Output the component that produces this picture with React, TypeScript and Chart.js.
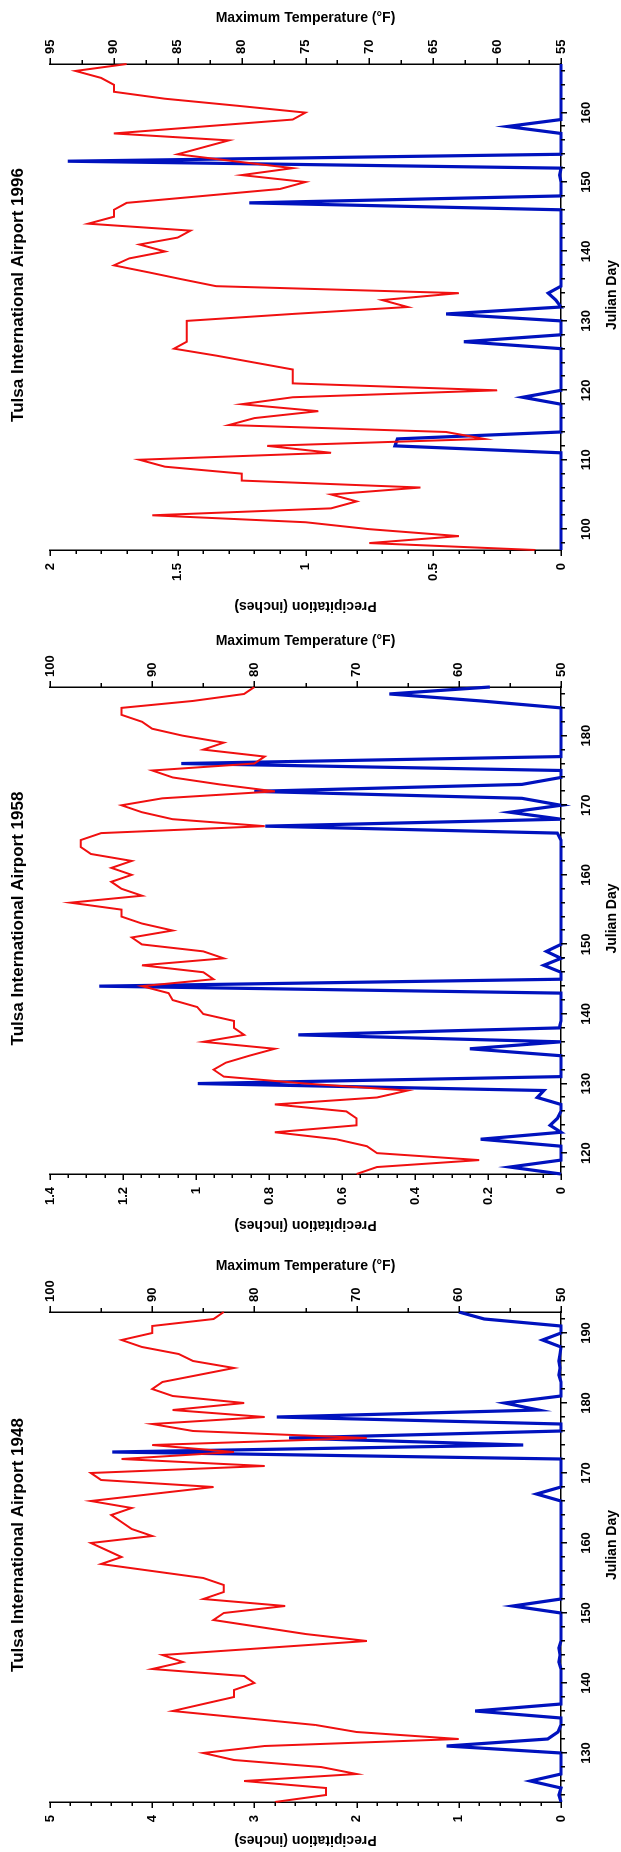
import React, { useEffect, useRef } from 'react';
import { Chart, registerables } from 'chart.js';

Chart.register(...registerables);

const FONT = '"Liberation Sans", Arial, Helvetica, sans-serif';
const RED = 'rgb(240, 16, 16)';
const BLUE = 'rgb(0, 18, 190)';

const range = (a: number, b: number) => {
  const r: number[] = [];
  for (let d = a; d <= b; d++) r.push(d);
  return r;
};

// ---------- 1996 ----------
const DAYS_1996 = range(97, 167);
const DAY_TICKS_1996 = [100, 110, 120, 130, 140, 150, 160];
const TEMP_1996 = [
  57, 70, 63, 70, 75, 87, 73, 71, 73, 66,
  80, 80, 86, 88, 73, 78, 61, 64, 81, 79,
  74, 80, 76, 60, 76, 76, 76, 79, 82, 85.3,
  84.3, 84.3, 84.3, 84.3, 76, 67, 69, 63, 82, 84.7,
  87.3, 90, 88.8, 86, 88, 85, 84, 92, 90, 90,
  89, 83, 77, 75, 80, 76, 80.6, 85, 83, 81,
  90, 83, 76, 75, 80.4, 86, 90, 90, 91, 93,
  89,
];
const PRECIP_1996 = [
  0, 0, 0, 0, 0, 0, 0, 0, 0, 0,
  0, 0, 0, 0, 0, 0.65, 0.64, 0, 0, 0,
  0, 0, 0.15, 0, 0, 0, 0, 0, 0, 0,
  0.38, 0, 0, 0, 0.45, 0, 0.02, 0.05, 0, 0,
  0, 0, 0, 0, 0, 0, 0, 0, 0, 0,
  1.22, 0, 0, 0, 0.005, 0, 1.93, 0, 0, 0,
  0, 0.21, 0, 0, 0, 0, 0, 0, 0, 0,
  0,
];

// ---------- 1958 ----------
const DAYS_1958 = range(117, 187);
const DAY_TICKS_1958 = [120, 130, 140, 150, 160, 170, 180];
const TEMP_1958 = [
  70, 68, 58, 68, 69, 72, 78, 70, 70, 71,
  78, 68, 65, 75, 83, 84, 82.8, 80.5, 78, 85,
  81, 82, 82, 85, 85.6, 88, 88.4, 91, 84, 85,
  91, 83, 85, 91, 92, 88, 91, 93, 93, 98,
  91, 93, 94, 92, 94, 92, 96, 97, 97, 95,
  79, 88, 91, 93, 89, 78, 83.4, 88, 90, 80,
  79, 85, 83, 87, 90, 91, 93, 93, 86, 81,
  80,
];
const PRECIP_1958 = [
  0, 0.14, 0, 0, 0, 0.22, 0, 0.03, 0.01, 0,
  0, 0.065, 0.047, 0.995, 0, 0, 0, 0, 0.25, 0,
  0.72, 0.005, 0, 0, 0, 0, 0, 1.265, 0, 0,
  0.047, 0, 0.04, 0, 0, 0, 0, 0, 0, 0,
  0, 0, 0, 0, 0, 0, 0, 0, 0, 0.01,
  0.81, 0, 0.14, 0, 0.107, 0.84, 0.107, 0, 0, 1.04,
  0, 0, 0, 0, 0, 0, 0, 0, 0.22, 0.47,
  0.195,
];

// ---------- 1948 ----------
const DAYS_1948 = range(123, 193);
const DAY_TICKS_1948 = [130, 140, 150, 160, 170, 180, 190];
const TEMP_1948 = [
  78, 73, 73, 81, 70, 73.5, 82, 85, 79, 60,
  70, 74, 81, 88, 85, 82, 82, 80, 81, 90,
  87, 89, 79, 69, 75, 79.5, 84, 83, 77, 85,
  83, 83, 85, 90, 95, 93, 94.5, 96, 90, 92,
  93, 94, 92, 96, 90, 84, 95, 96, 79, 93,
  82, 90, 69, 86, 90, 79, 88, 81, 88, 90,
  89, 85.5, 82, 86, 87.4, 91, 93, 90, 90, 84,
  83,
];
const PRECIP_1948 = [
  0, 0.02, 0, 0.3, 0, 0, 0, 0, 1.12, 0.13,
  0.03, 0, 0, 0.84, 0, 0, 0, 0, 0, 0,
  0.02, 0.01, 0.02, 0, 0, 0, 0, 0, 0.47, 0,
  0, 0, 0, 0, 0, 0, 0, 0, 0, 0,
  0, 0, 0, 0, 0.24, 0, 0, 0, 0, 0,
  4.39, 0.37, 2.66, 0, 0, 2.78, 0.22, 0.55, 0, 0,
  0, 0.02, 0.01, 0.02, 0.01, 0, 0.18, 0, 0, 0.75,
  1.0,
];

type PanelDef = {
  title: string;
  days: number[];
  dayTicks: number[];
  temp: number[];
  precip: number[];
  dayMin: number;
  dayMax: number;
  pMax: number;
  pMajor: number;
  pMinor: number;
  tMin: number;
  tMax: number;
  tMajor: number;
  tMinor: number;
  top: number;
  w: number;
  left: number;
  right: number;
  pGap: number;
};

const PANELS: PanelDef[] = [
  {
    title: 'Tulsa International Airport 1996',
    days: DAYS_1996, dayTicks: DAY_TICKS_1996, temp: TEMP_1996, precip: PRECIP_1996,
    dayMin: 97, dayMax: 167,
    pMax: 2, pMajor: 0.5, pMinor: 0.1,
    tMin: 55, tMax: 95, tMajor: 5, tMinor: 2.5,
    top: 0, w: 620, left: 70, right: 556, pGap: 56,
  },
  {
    title: 'Tulsa International Airport 1958',
    days: DAYS_1958, dayTicks: DAY_TICKS_1958, temp: TEMP_1958, precip: PRECIP_1958,
    dayMin: 117, dayMax: 187,
    pMax: 1.4, pMajor: 0.2, pMinor: 0.05,
    tMin: 50, tMax: 100, tMajor: 10, tMinor: 5,
    top: 620, w: 620, left: 66, right: 553, pGap: 51,
  },
  {
    title: 'Tulsa International Airport 1948',
    days: DAYS_1948, dayTicks: DAY_TICKS_1948, temp: TEMP_1948, precip: PRECIP_1948,
    dayMin: 123, dayMax: 193,
    pMax: 5, pMajor: 1, pMinor: 0.2,
    tMin: 50, tMax: 100, tMajor: 10, tMinor: 5,
    top: 1240, w: 612, left: 50, right: 540, pGap: 38,
  },
];

const H = 621;
const MAJ = 6;
const MIN = 4;

const fmt = (v: any) => String(Number(Number(v).toFixed(2)));

const decorPlugin = {
  id: 'panelDecor',
  afterDraw(chart: any, _args: any, opts: any) {
    const { ctx, chartArea, scales } = chart;
    const x = scales.x;
    const y = scales.y;
    const y1 = scales.y1;
    ctx.save();
    ctx.strokeStyle = '#000';
    ctx.lineWidth = 1.5;
    ctx.beginPath();
    for (let d = Math.ceil(x.min / 2) * 2; d <= x.max; d += 2) {
      const px = Math.round(x.getPixelForValue(d)) + 0.25;
      const len = d % 10 === 0 ? MAJ : MIN;
      ctx.moveTo(px, chartArea.bottom);
      ctx.lineTo(px, chartArea.bottom + len);
    }
    const nP = Math.round((y.max - y.min) / opts.pMinor);
    const rP = Math.round(opts.pMajor / opts.pMinor);
    for (let i = 0; i <= nP; i++) {
      const py = Math.round(y.getPixelForValue(y.min + i * opts.pMinor)) + 0.25;
      const len = i % rP === 0 ? MAJ : MIN;
      ctx.moveTo(chartArea.left - len, py);
      ctx.lineTo(chartArea.left, py);
    }
    const nT = Math.round((y1.max - y1.min) / opts.tMinor);
    const rT = Math.round(opts.tMajor / opts.tMinor);
    for (let i = 0; i <= nT; i++) {
      const py = Math.round(y1.getPixelForValue(y1.min + i * opts.tMinor)) + 0.25;
      const len = i % rT === 0 ? MAJ : MIN;
      ctx.moveTo(chartArea.right, py);
      ctx.lineTo(chartArea.right + len, py);
    }
    ctx.stroke();

    const cx = (chartArea.left + chartArea.right) / 2 + 12;
    ctx.fillStyle = '#000';
    ctx.textAlign = 'center';
    ctx.textBaseline = 'middle';
    ctx.font = `bold 17px ${FONT}`;
    ctx.fillText(opts.title, cx, 18.5);
    ctx.font = `bold 14px ${FONT}`;
    ctx.fillText('Julian Day', cx, 612);
    ctx.restore();
  },
};

function makeConfig(p: PanelDef): any {
  const tickFont = { family: FONT, size: 13, weight: 'bold' };
  const titleFont = { family: FONT, size: 14, weight: 'bold' };
  const border = { display: true, color: '#000', width: 1.5 };
  const rightWidth = p.w - p.right;
  return {
    type: 'line',
    data: {
      datasets: [
        {
          label: 'Maximum Temperature (°F)',
          data: p.days.map((d, i) => ({ x: d, y: p.temp[i] })),
          yAxisID: 'y1',
          borderColor: RED,
          backgroundColor: RED,
          borderWidth: 2,
          pointRadius: 0,
          tension: 0,
          fill: false,
          clip: false,
        },
        {
          label: 'Precipitation (inches)',
          data: p.days.map((d, i) => ({ x: d, y: p.precip[i] })),
          yAxisID: 'y',
          borderColor: BLUE,
          backgroundColor: BLUE,
          borderWidth: 3.2,
          pointRadius: 0,
          tension: 0,
          fill: false,
          clip: false,
        },
      ],
    },
    options: {
      responsive: false,
      animation: false,
      events: [],
      layout: { padding: { top: 50, left: 0, right: 0, bottom: 0 } },
      plugins: {
        legend: { display: false },
        tooltip: { enabled: false },
        title: { display: false },
        panelDecor: {
          title: p.title,
          pMajor: p.pMajor,
          pMinor: p.pMinor,
          tMajor: p.tMajor,
          tMinor: p.tMinor,
        },
      },
      scales: {
        x: {
          type: 'linear',
          position: 'bottom',
          min: p.dayMin,
          max: p.dayMax,
          afterFit: (s: any) => { s.height = H - 561; },
          afterBuildTicks: (s: any) => { s.ticks = p.dayTicks.map((v) => ({ value: v })); },
          grid: { display: false, drawTicks: true, tickLength: 6 },
          border,
          ticks: {
            autoSkip: false,
            maxRotation: 0,
            font: tickFont,
            color: '#000',
            padding: 12,
            callback: (v: any) => fmt(v),
          },
          title: { display: false },
        },
        y: {
          type: 'linear',
          position: 'left',
          min: 0,
          max: p.pMax,
          afterFit: (s: any) => { s.width = p.left; },
          grid: { display: false, drawTicks: true, tickLength: 6 },
          border,
          ticks: {
            stepSize: p.pMajor,
            autoSkip: false,
            font: tickFont,
            color: '#000',
            padding: 7,
            callback: (v: any) => fmt(v),
          },
          title: {
            display: true,
            text: 'Precipitation (inches)',
            font: titleFont,
            color: '#000',
            padding: { top: p.left - p.pGap - 8.4, bottom: 0 },
          },
        },
        y1: {
          type: 'linear',
          position: 'right',
          min: p.tMin,
          max: p.tMax,
          afterFit: (s: any) => { s.width = rightWidth; },
          grid: { display: false, drawTicks: true, tickLength: 6 },
          border,
          ticks: {
            stepSize: p.tMajor,
            autoSkip: false,
            font: tickFont,
            color: '#000',
            padding: 4,
            callback: (v: any) => fmt(v),
          },
          title: {
            display: true,
            text: 'Maximum Temperature (°F)',
            font: titleFont,
            color: '#000',
            padding: { top: rightWidth - 46 - 8.4, bottom: 0 },
          },
        },
      },
    },
    plugins: [decorPlugin],
  };
}

function Panel({ def }: { def: PanelDef }) {
  const ref = useRef<HTMLCanvasElement | null>(null);
  useEffect(() => {
    if (!ref.current) return;
    const chart = new Chart(ref.current, makeConfig(def));
    return () => chart.destroy();
  }, [def]);
  return (
    <div
      style={{
        position: 'absolute',
        left: 0,
        top: def.top,
        width: 621,
        height: def.w,
        overflow: 'hidden',
      }}
    >
      <canvas
        ref={ref}
        width={def.w}
        height={H}
        style={{
          position: 'absolute',
          left: 0,
          top: 0,
          width: def.w,
          height: H,
          transformOrigin: '0 0',
          transform: `translate(0px, ${def.w}px) rotate(-90deg)`,
        }}
      />
    </div>
  );
}

export default function App() {
  return (
    <div
      style={{
        position: 'absolute',
        left: 0,
        top: 0,
        width: 621,
        height: 1852,
        background: '#fff',
        overflow: 'hidden',
      }}
    >
      {PANELS.map((p) => (
        <Panel key={p.title} def={p} />
      ))}
    </div>
  );
}
